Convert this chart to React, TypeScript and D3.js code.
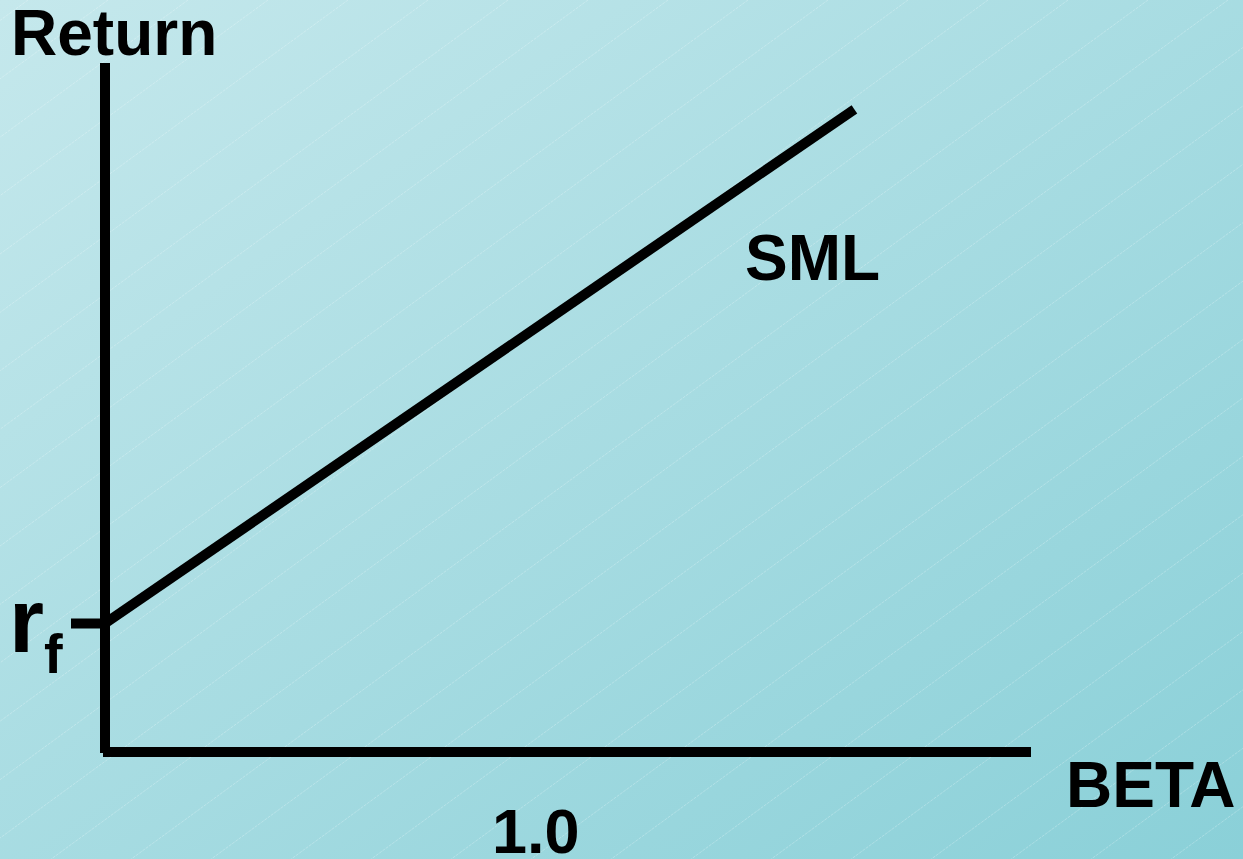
import React from "react";
import * as d3 from "d3";

// Data
const smlBeta = [0, 1.74];
const smlReturn = [2, 10];
const riskFree = 2;
const betaMax = 2.15;
const returnMax = 10.72;
const betaTickLabel = "1.0";
const betaTickValue = 1.0;

const W = 1243;
const H = 859;

export default function App() {
  const x = d3.scaleLinear().domain([0, betaMax]).range([105, 1031]);
  const y = d3.scaleLinear().domain([0, returnMax]).range([752, 63]);

  const smlPts: [number, number][] = smlBeta.map((b, i) => [x(b), y(smlReturn[i])]);
  const line = d3.line<[number, number]>();

  // decorative diagonal texture
  const slope = 0.73;
  const texLines: { x1: number; y1: number; x2: number; y2: number }[] = [];
  for (let x0 = 28; x0 < W + H / slope + 80; x0 += 80) {
    texLines.push({ x1: x0, y1: 0, x2: x0 - H / slope, y2: H });
  }

  const font = "'Liberation Sans', Arial, sans-serif";

  return (
    <svg
      width={W}
      height={H}
      style={{ position: "absolute", left: 0, top: 0, display: "block" }}
    >
      <defs>
        <linearGradient id="bg" x1="0" y1="0" x2="1" y2="1">
          <stop offset="0%" stopColor="#c5e8ec" />
          <stop offset="100%" stopColor="#8ad0d8" />
        </linearGradient>
      </defs>
      <rect x={0} y={0} width={W} height={H} fill="url(#bg)" />
      <g stroke="#ffffff" strokeOpacity={0.25} strokeWidth={1} strokeDasharray="3 1">
        {texLines.map((l, i) => (
          <line key={i} x1={l.x1} y1={l.y1} x2={l.x2} y2={l.y2} />
        ))}
      </g>

      {/* axes */}
      <line x1={x(0)} y1={y(returnMax)} x2={x(0)} y2={y(0) + 1} stroke="#000" strokeWidth={10} />
      <line x1={x(0) - 2} y1={y(0)} x2={x(betaMax)} y2={y(0)} stroke="#000" strokeWidth={10} />
      {/* rf tick */}
      <line x1={x(0) - 34} y1={y(riskFree)} x2={x(0)} y2={y(riskFree)} stroke="#000" strokeWidth={10} />

      {/* SML */}
      <path d={line(smlPts) || ""} stroke="#000" strokeWidth={10} fill="none" />

      <g fontFamily={font} fontWeight="bold" fill="#000">
        <text x={11} y={55} fontSize={64}>Return</text>
        <text x={745} y={280} fontSize={64}>SML</text>
        <text x={1066} y={807} fontSize={64}>BETA</text>
        <text x={x(betaTickValue)} y={853} fontSize={63} textAnchor="middle">{betaTickLabel}</text>
        <text x={9} y={652} fontSize={90}>r</text>
        <text x={44} y={673} fontSize={56}>f</text>
      </g>
    </svg>
  );
}
